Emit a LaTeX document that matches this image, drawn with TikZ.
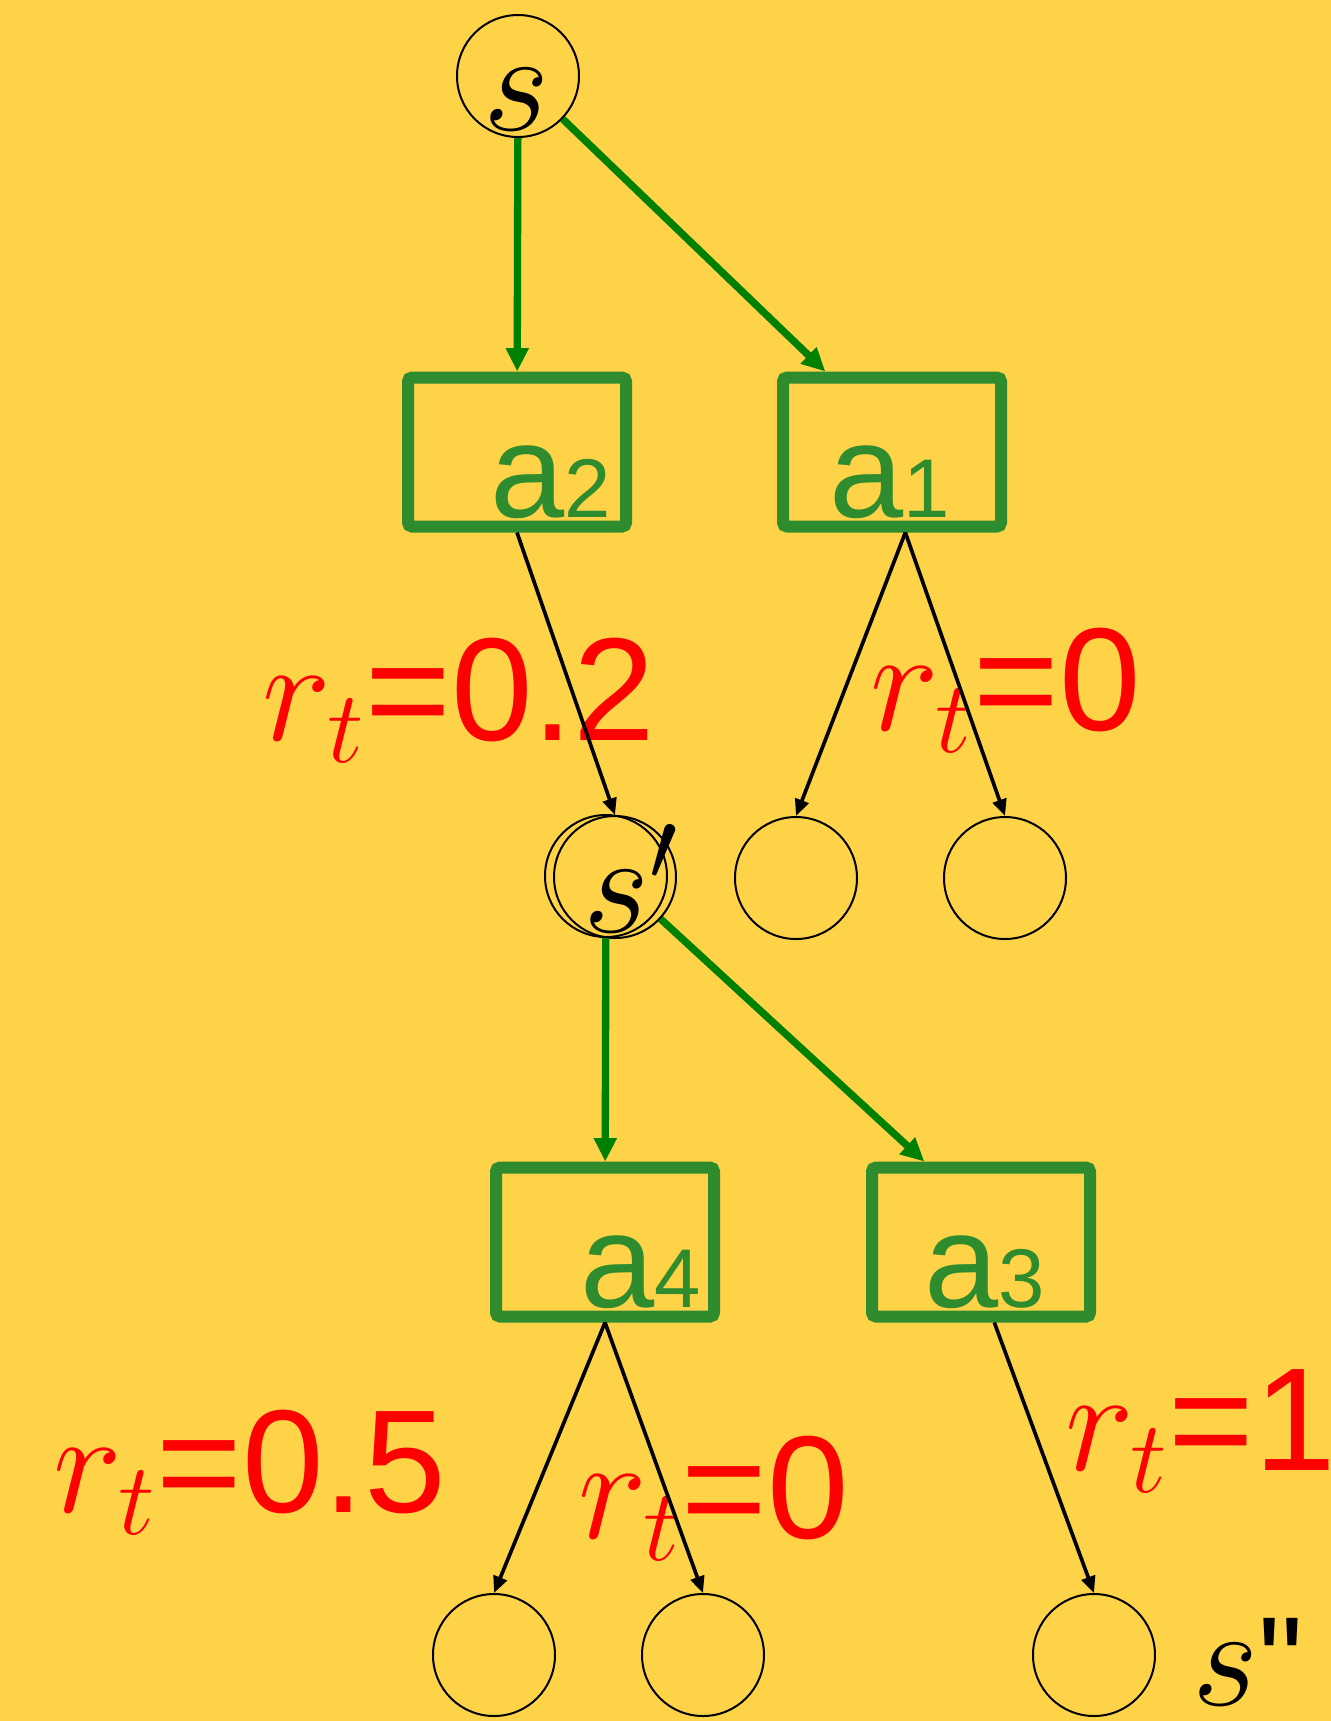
\documentclass[tikz,border=0pt]{standalone}
\usepackage{fix-cm}
\usepackage{fontspec}
\setsansfont{Liberation Sans}
\usetikzlibrary{arrows.meta}
\definecolor{bgyellow}{RGB}{255,211,71}
\definecolor{actgreen}{RGB}{46,139,46}
\definecolor{polgreen}{RGB}{0,128,0}
\definecolor{rwred}{RGB}{255,0,0}
\newcommand{\actsub}[1]{{\fontsize{25}{28}\selectfont #1}}
\tikzset{mdp/.style={x=0.3pt,y=-0.3pt},
  state/.style={circle,draw,line width=0.6pt,minimum size=36.6pt,inner sep=0pt},
  act/.style={draw=actgreen,line width=3.6pt,minimum width=65.4pt,minimum height=44.7pt,rounded corners=1.2pt,inner sep=0pt},
  actlab/.style={text=actgreen,inner sep=0pt,font=\sffamily\fontsize{40}{44}\selectfont},
  slab/.style={inner sep=0pt,font=\fontsize{43}{48}\selectfont},
  rew/.style={text=rwred,inner sep=0pt,anchor=base west,font=\sffamily\fontsize{44}{50}\selectfont},
  pol/.style={polgreen,line width=2.2pt,-{Triangle[length=7pt,width=6.5pt]}},
  trans/.style={line width=1.1pt,-{Triangle[length=5pt,width=4.2pt]}}}

\begin{document}
\begin{tikzpicture}[mdp]
    \fill[bgyellow] (0,0) rectangle (1331,1721);
    \useasboundingbox (0,0) rectangle (1331,1721);
    % states
    \node[state] (s)   at (518,76) {};
    \node[state] (sp)  at (606,876) {};
    \node[state] (sq)  at (615,877) {};
    \node[state] (c1)  at (796,878) {};
    \node[state] (c2)  at (1005,878) {};
    \node[state] (b1)  at (494,1655) {};
    \node[state] (b2)  at (703,1655) {};
    \node[state] (b3)  at (1094,1655) {};
    % actions
    \node[act] (a2) at (517,452) {};
    \node[act] (a1) at (892,452) {};
    \node[act] (a4) at (605,1242) {};
    \node[act] (a3) at (981,1242) {};
    \node[actlab,anchor=base east] (la2) at (612,517) {a\actsub{2}};
    \node[actlab,anchor=base]      (la1) at (890,517) {a\actsub{1}};
    \node[actlab,anchor=base east] (la4) at (702,1307) {a\actsub{4}};
    \node[actlab,anchor=base]      (la3) at (985,1307) {a\actsub{3}};
    % state names
    \node[slab,anchor=base]      (ls)   at (517,130) {$s$};
    \node[slab,anchor=base west] (lsp)  at (583,932) {$s'$};
    \node[slab,anchor=base west] (lspp) at (1192,1705) {$s${\sffamily\fontsize{38}{44}\selectfont\textquotedbl}};
    % rewards
    \node[rew] (r2)  at (262,740)  {$r_t$=0.2};
    \node[rew] (r1)  at (870,730)  {$r_t$=0};
    \node[rew] (r4)  at (53,1512)  {$r_t$=0.5};
    \node[rew] (r4b) at (578,1538) {$r_t$=0};
    \node[rew] (r3)  at (1065,1470) {$r_t$=1};
    % policy
    \draw[pol] (s) -- (a2);
    \draw[pol] (s) -- ([xshift=-20pt]a1.north);
    \draw[pol] (sp) -- (a4);
    \draw[pol] (sq) -- ([xshift=-17pt]a3.north);
    % transitions
    \draw[trans] (a2.south) -- (sq.north);
    \draw[trans] ([xshift=4pt]a1.south) -- (c1.north);
    \draw[trans] ([xshift=4pt]a1.south) -- (c2.north);
    \draw[trans] (a4.south) -- (b1.north);
    \draw[trans] (a4.south) -- (b2.north);
    \draw[trans] ([xshift=4pt]a3.south) -- (b3.north);
\end{tikzpicture}
\end{document}
